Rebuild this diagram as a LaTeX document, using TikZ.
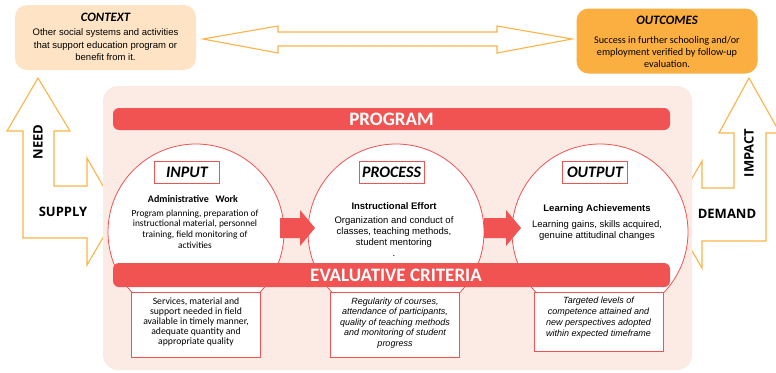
\documentclass[tikz,border=0pt]{standalone}
\usepackage{fontspec}
\setmainfont{Carlito}
\newfontfamily\arialfont{Liberation Sans}
\newfontfamily\headfont{Open Sans}
\definecolor{progred}{RGB}{240,83,82}
\definecolor{progback}{RGB}{252,234,228}
\definecolor{ctxfill}{RGB}{254,228,196}
\definecolor{outfill}{RGB}{250,175,64}
\definecolor{arrowline}{RGB}{250,180,72}
\begin{document}
\begin{tikzpicture}[x=1pt,y=-1pt,
  hollow/.style={draw=arrowline,fill=white,line width=1.1pt},
  topbox/.style={rounded corners=12pt,minimum width=181pt,minimum height=65pt},
  toptitle/.style={font=\fontsize{12.8}{12.8}\selectfont\bfseries\itshape},
  band/.style={fill=progred,rounded corners=6pt},
  bandtext/.style={text=white,font=\fontsize{19}{19}\selectfont\bfseries},
  stage/.style={circle,draw=progred,fill=white,line width=0.8pt,minimum size=176pt},
  stagetag/.style={rectangle,draw=progred,fill=white,line width=0.8pt,minimum width=65pt,minimum height=22pt,
    inner sep=0pt,font=\fontsize{16}{16}\selectfont\bfseries\itshape},
  crit/.style={rectangle,draw=progred,fill=white,line width=0.8pt,minimum width=129pt},
  small/.style={align=center,inner sep=0pt},
  sidelabel/.style={font=\headfont\fontsize{13}{13}\selectfont\bfseries}]
\useasboundingbox (0,0) rectangle (776,372);

% context and outcomes
\node[topbox,fill=ctxfill] (context) at (105.5,37.5) {};
\node[toptitle] (contexttitle) at (105.5,17) {CONTEXT};
\node[small,font=\arialfont\fontsize{9.5}{12.5}\selectfont] (contexttext) at (105.5,45) {Other social systems and activities\\that support education program or\\benefit from it.};
\node[topbox,fill=outfill] (outcomes) at (667,41) {};
\node[toptitle] (outcomestitle) at (667,20) {OUTCOMES};
\node[small,font=\fontsize{10.2}{12.2}\selectfont] (outcomestext) at (667,52) {Success in further schooling and/or\\employment verified by follow-up\\evaluation.};
\draw[hollow] (203,39) -- (278,26) -- (278,32) -- (497,32) -- (497,26) -- (572,39)
      -- (497,53) -- (497,46) -- (278,46) -- (278,53) -- cycle;

% need / supply and impact / demand
\draw[hollow] (38,78) -- (7,131) -- (23,131) -- (23,238) -- (87,238) -- (87,265) -- (118,212)
      -- (87,158) -- (87,186) -- (54,186) -- (54,131) -- (70,131) -- cycle;
\node[sidelabel,rotate=90] (need) at (38,142) {NEED};
\node[sidelabel] (supply) at (63,212) {SUPPLY};
\draw[hollow] (749,78) -- (719,133) -- (734,133) -- (734,188) -- (702,188) -- (702,161) -- (671,215)
      -- (702,268) -- (702,241) -- (766,241) -- (766,133) -- (780,133) -- cycle;
\node[sidelabel,rotate=90] (impact) at (749,153) {IMPACT};
\node[sidelabel] (demand) at (727,214) {DEMAND};

% program
\fill[progback,rounded corners=15pt] (103,86) rectangle (692,370);
\fill[band] (113,108) rectangle (670,130);
\node[bandtext] (program) at (391.5,119) {PROGRAM};

\node[stage] (input) at (196,232) {};
\node[stage] (process) at (396,232) {};
\node[stage] (output) at (600,232) {};
\fill[progred] (280,218) -- (300,218) -- (300,210) -- (315,228) -- (300,246) -- (300,238) -- (280,238) -- cycle;
\fill[progred] (484,218) -- (506,218) -- (506,210) -- (521,228) -- (506,246) -- (506,238) -- (484,238) -- cycle;

\node[stagetag] (inputtag) at (187,172) {INPUT};
\node[stagetag] (processtag) at (391.5,172) {PROCESS};
\node[stagetag] (outputtag) at (595,172.5) {OUTPUT};

\node[font=\fontsize{10}{10}\selectfont\bfseries] (inputhead) at (193,199) {Administrative\ \ \ Work};
\node[small,font=\fontsize{9.4}{10.8}\selectfont] (inputtext) at (195,229) {Program planning, preparation of\\instructional material, personnel\\training, field monitoring of\\activities};
\node[font=\arialfont\fontsize{9.5}{9.5}\selectfont\bfseries] (processhead) at (394,206) {Instructional Effort};
\node[small,font=\arialfont\fontsize{9.5}{11}\selectfont] (processtext) at (394,237) {Organization and conduct of\\classes, teaching methods,\\student mentoring\\.};
\node[font=\arialfont\fontsize{9.5}{9.5}\selectfont\bfseries] (outputhead) at (597,209) {Learning Achievements};
\node[small,font=\arialfont\fontsize{9.5}{11}\selectfont] (outputtext) at (597,230.5) {Learning gains, skills acquired,\\genuine attitudinal changes};

% evaluative criteria
\fill[band] (113,263) rectangle (670,287);
\node[bandtext] (criteria) at (396,275) {EVALUATIVE CRITERIA};
\node[crit,minimum height=65pt] (inputcrit) at (196,324.5) {};
\node[crit,minimum height=65pt] (processcrit) at (395,324.5) {};
\node[crit,minimum height=59pt] (outputcrit) at (598.5,321.5) {};
\node[small,font=\fontsize{9.7}{10.1}\selectfont] (inputcrittext) at (196,322)
  {Services, material and\\support needed in field\\available in timely manner,\\adequate quantity and\\appropriate quality};
\node[small,font=\arialfont\fontsize{9}{10.5}\selectfont\itshape] (processcrittext) at (395,323)
  {Regularity of courses,\\attendance of participants,\\quality of teaching methods\\and monitoring of student\\progress};
\node[small,font=\arialfont\fontsize{9}{10.8}\selectfont\itshape] (outputcrittext) at (598.5,317.5)
  {Targeted levels of\\competence attained and\\new perspectives adopted\\within expected timeframe};
\end{tikzpicture}
\end{document}
